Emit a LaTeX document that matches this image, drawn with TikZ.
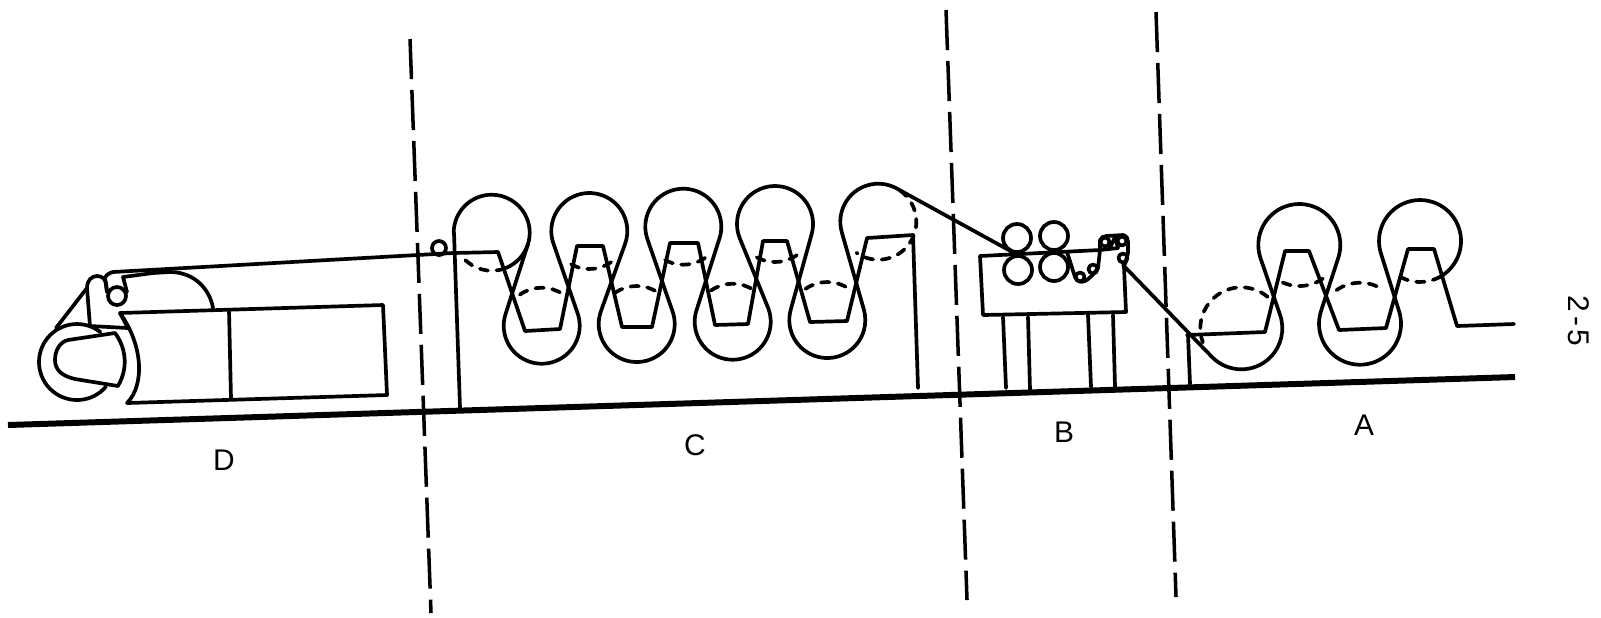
\documentclass[tikz,border=0pt]{standalone}
\usepackage{fontspec}
\setmainfont{Liberation Sans}
\usetikzlibrary{calc}
\tikzset{
	web/.style={line width=1.05pt},
	floorline/.style={line width=1.7pt, line cap=butt},
	hidden/.style={line width=1.05pt, dash pattern=on 2.4pt off 2.4pt},
	zoneline/.style={line width=1pt, line cap=butt, dash pattern=on 11.4pt off 3.1pt},
	zonelabel/.style={font=\fontsize{8.5}{10}\selectfont}
}
\begin{document}
\begin{tikzpicture}[x=0.01cm, y=-0.01cm, line join=round, line cap=round, >=stealth]
	\useasboundingbox (0,0) rectangle (1601,617);
	\draw[floorline] (8,425)--(1515,377);
	\draw[zoneline] (410,39)--(431,613);
	\draw[zoneline] (946,10)--(967,600);
	\draw[zoneline] (1156,12)--(1176,597);
	\node[zonelabel] (labelD) at (224,460){D};
	\node[zonelabel] (labelC) at (695,445){C};
	\node[zonelabel] (labelB) at (1064,432){B};
	\node[zonelabel] (labelA) at (1364,425){A};
	\node[zonelabel, rotate=-90] (pagenum) at (1579,321){2\kern1pt-\kern1pt5};

	\draw[web] (453.7,232.7) \foreach \cx/\cy/\sa/\ea in {491.7/232.7/180/377.7, 541.7/325.7/197.7/-19.1, 589.3/231/160.9/379.7, 636.7/324/199.7/-19.2, 683.3/226.7/160.8/377.7, 732.7/321.7/197.7/-22.1, 775/224/157.9/375.4, 827.3/320/195.4/-16, 878.3/221.7/164/300.2}{
		-- ($(\cx,\cy)+(\sa:38)$) arc[start angle=\sa, end angle=\ea, radius=38]
	} -- (1016,254);
	\draw[web] (491.7,232.7)++(17.7:38) arc[start angle=17.7, end angle=68, radius=38];
	\foreach \cx/\cy/\sa/\ea in {491.7/232.7/70/140, 589.3/231/55/125, 683.3/226.7/55/125, 775/224/55/125, 878.3/221.7/305/485, 541.7/325.7/-125/-55, 636.7/324/-125/-55, 732.7/321.7/-125/-55, 827.3/320/-125/-55}
		\draw[hidden] ($(\cx,\cy)+(\sa:38)$) arc[start angle=\sa, end angle=\ea, radius=38];
	\draw[web] (113,272)--(453,253)--(498,252)--(525,331)--(560,329)--(577,246)--(603,246)--(622,327)--(652,327)--(670,243)--(698,243)--(715,325)--(748,324)--(763,241)--(787,241)--(810,322)--(847,321)--(867,238)--(913,235)--(918,388);
	\draw[web] (454,233)--(460,408);
	\draw[web] (439,248) circle[radius=7];

	\draw[web] (980,256)--(1100,250)--(1118,248);
	\draw[web] (980,256)--(983,315)--(1126,312)--(1124,267);
	\draw[web] (1003,317)--(1006,388);
	\draw[web] (1028,317)--(1030,390);
	\draw[web] (1088,315)--(1091,387);
	\draw[web] (1113,315)--(1115,387);
	\foreach \cx/\cy in {1017/238, 1054/236, 1018/270, 1054/267}
		\draw[web] (\cx,\cy) circle[radius=14];
	\foreach \cx/\cy in {1080/277, 1093/269, 1105/242, 1122/241, 1123/258}
		\draw[web] (\cx,\cy) circle[radius=4.5];
	\draw[web] (1067,252)--(1075,277)..controls (1080,286) and (1088,282)..(1098,268)--(1100,250)--(1100,240)..controls (1101,237) and (1104,236)..(1107,236)--(1123,235)..controls (1127,236) and (1128,239)..(1128,242)--(1128,253)--(1125,264);
	\draw[web] (1110,248)--(1115,237)--(1118,248);

	\draw[web] (1123,265) \foreach \cx/\cy/\sa/\ea in {1241.3/328.3/135.4/-19.1, 1299.3/245/160.9/378, 1360/323.7/198/-17.4, 1420/241/162.6/420}{
		-- ($(\cx,\cy)+(\sa:41)$) arc[start angle=\sa, end angle=\ea, radius=41]
	};
	\foreach \cx/\cy/\sa/\ea in {1241.3/328.3/-50/-200, 1299.3/245/55/125, 1360/323.7/-125/-55, 1420/241/60/125}
		\draw[hidden] ($(\cx,\cy)+(\sa:41)$) arc[start angle=\sa, end angle=\ea, radius=41];
	\draw[web] (1187,335)--(1265,332)--(1285,251)--(1309,251)--(1339,330)--(1386,328)--(1408,249)--(1434,249)--(1457,326)--(1514,324);
	\draw[web] (1188,335)--(1190,384);

	\draw[web] (120,313)--(383,305)--(387,395)--(127,403)..controls (145,385) and (143,345)..(120,313);
	\draw[web] (229,310)--(231,399);
	\draw[web] (120,313)--(128,328)--(90,326)--(87,288)..controls (87,280) and (92,276)..(97,276)..controls (102,276) and (105,279)..(106,283)--(107,292);
	\draw[web] (87,288)--(56,328);
	\draw[web] (113,272)..controls (109,273) and (106,275)..(105,278)--(107,292);
	\draw[web] (117,296) circle[radius=9];
	\draw[web] (127,292)--(123,277)--(153,273)--(170,272)..controls (195,272) and (210,290)..(213,308);
	\draw[web] ($(77,362)+(40:38)$) arc[start angle=40, end angle=308, radius=38];
	\draw[web] (68,340)--(115,333)..controls (124,345) and (130,365)..(118,386)--(75,379)..controls (62,376) and (55,370)..(55,360)..controls (55,350) and (60,342)..(68,340);
\end{tikzpicture}
\end{document}
